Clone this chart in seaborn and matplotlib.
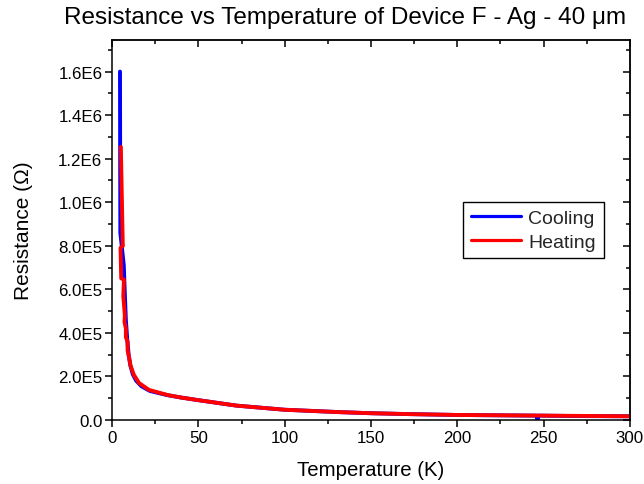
import numpy as np
import pandas as pd
import matplotlib
matplotlib.use("Agg")
import matplotlib.pyplot as plt
import seaborn as sns
from matplotlib.ticker import FixedLocator, MultipleLocator

# ---- data ----
cool_T = [4.6, 4.7, 4.8, 6.8, 7.4, 8.0, 8.8, 9.6, 10.6, 12.0, 14.0, 17.0, 22.0,
          32.0, 40.0, 50.0, 72.0, 100.0, 132.0, 150.0, 172.0, 200.0, 230.0,
          246.0, 246.5, 247.0, 270.0, 300.0]
cool_R = [1.60e6, 1.20e6, 8.6e5, 7.1e5, 5.8e5, 4.6e5, 3.7e5, 3.0e5, 2.5e5, 2.1e5,
          1.8e5, 1.55e5, 1.33e5, 1.14e5, 1.03e5, 9.1e4, 6.6e4, 4.7e4, 3.6e4, 3.1e4,
          2.7e4, 2.3e4, 2.1e4, 2.0e4, 1.0e3, 2.0e4, 1.8e4, 1.7e4]

heat_T = [5.1, 6.2, 6.3, 4.9, 5.3, 6.9, 6.5, 7.4, 7.2, 8.0, 8.0, 9.0, 9.0, 9.8,
          10.7, 12.6, 15.6, 21.4, 32.0, 40.0, 50.0, 72.0, 100.0, 132.0, 150.0,
          172.0, 200.0, 250.0, 300.0]
heat_R = [1.254e6, 8.1e5, 8.0e5, 7.9e5, 6.5e5, 6.45e5, 5.7e5, 4.8e5, 4.5e5, 4.2e5,
          3.8e5, 3.6e5, 3.2e5, 2.9e5, 2.5e5, 2.08e5, 1.7e5, 1.38e5, 1.15e5, 1.03e5,
          9.1e4, 6.6e4, 4.7e4, 3.6e4, 3.1e4, 2.7e4, 2.3e4, 2.0e4, 1.7e4]

series_names = ["Cooling", "Heating"]
series_colors = ["#0000ff", "#ff0000"]

x_ticks = [0, 50, 100, 150, 200, 250, 300]
x_tick_labels = ["0", "50", "100", "150", "200", "250", "300"]
y_ticks = [0, 2e5, 4e5, 6e5, 8e5, 1e6, 1.2e6, 1.4e6, 1.6e6]
y_tick_labels = ["0.0", "2.0E5", "4.0E5", "6.0E5", "8.0E5", "1.0E6", "1.2E6", "1.4E6", "1.6E6"]

title = "Resistance vs Temperature of Device F - Ag - 40 \u03bcm"
x_label = "Temperature (K)"
y_label = "Resistance (\u03a9)"

# ---- build table ----
df = pd.concat([
    pd.DataFrame({"T": cool_T, "R": cool_R, "run": series_names[0]}),
    pd.DataFrame({"T": heat_T, "R": heat_R, "run": series_names[1]}),
], ignore_index=True)

sns.set_theme(style="white")
plt.rcParams["font.family"] = ["Liberation Sans", "DejaVu Sans"]

fig = plt.figure(figsize=(6.44, 4.85), dpi=100)
ax = fig.add_axes([0.174, 0.132, 0.804, 0.7835])

sns.lineplot(data=df, x="T", y="R", hue="run", hue_order=series_names,
             palette=series_colors, sort=False, estimator=None,
             linewidth=2.8, ax=ax)

ax.set_xlim(0, 300)
ax.set_ylim(0, 1.745e6)

ax.xaxis.set_major_locator(FixedLocator(x_ticks))
ax.set_xticklabels(x_tick_labels)
ax.xaxis.set_minor_locator(MultipleLocator(25))
ax.yaxis.set_major_locator(FixedLocator(y_ticks))
ax.set_yticklabels(y_tick_labels)
ax.yaxis.set_minor_locator(MultipleLocator(1e5))

for s in ax.spines.values():
    s.set_visible(True)
    s.set_color("black")
    s.set_linewidth(1.1)

ax.tick_params(which="major", direction="out", length=5, width=1.1,
               color="black", labelsize=12.2, labelcolor="black", pad=2,
               bottom=True, left=True)
ax.tick_params(which="minor", direction="out", length=3, width=1.1,
               color="black", bottom=True, left=True)

# mirrored inward ticks on top and right
top = ax.secondary_xaxis("top")
top.xaxis.set_major_locator(FixedLocator(x_ticks))
top.xaxis.set_minor_locator(MultipleLocator(25))
top.tick_params(which="major", direction="in", length=5, width=1.1, labeltop=False, color="black")
top.tick_params(which="minor", direction="in", length=3, width=1.1, color="black")
top.spines["top"].set_linewidth(1.1)
right = ax.secondary_yaxis("right")
right.yaxis.set_major_locator(FixedLocator(y_ticks))
right.yaxis.set_minor_locator(MultipleLocator(1e5))
right.tick_params(which="major", direction="in", length=5, width=1.1, labelright=False, color="black")
right.tick_params(which="minor", direction="in", length=3, width=1.1, color="black")
right.spines["right"].set_linewidth(1.1)

ax.set_xlabel(x_label, fontsize=14.7, color="black", labelpad=11)
ax.set_ylabel(y_label, fontsize=15, color="black", labelpad=18)

fig.text(0.536, 0.962, title, ha="center", va="center", fontsize=17.5, color="black")

leg = ax.legend(loc="upper left", bbox_to_anchor=(0.678, 0.574), borderaxespad=0,
                fontsize=14, frameon=True, fancybox=False, framealpha=1,
                edgecolor="black", handlelength=2.6, handletextpad=0.35,
                labelspacing=0.3, borderpad=0.4, title=None)
leg.get_frame().set_linewidth(1.0)
for h in leg.get_lines():
    h.set_linewidth(2.3)

fig.savefig("out.png", dpi=100, facecolor="white")
